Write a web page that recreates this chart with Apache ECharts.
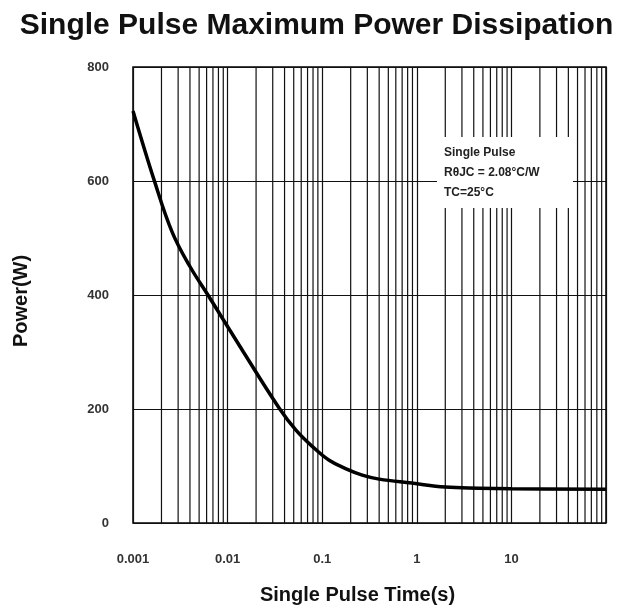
<!DOCTYPE html>
<html>
<head>
<meta charset="utf-8">
<script src="https://cdn.jsdelivr.net/npm/echarts@6/dist/echarts.min.js"></script>
<style>
  html, body { margin: 0; padding: 0; background: #fff; }
  #chart { width: 633px; height: 610px; }
</style>
</head>
<body>
<div id="chart"></div>
<script>
// pulse time (s) and power (W)
const pulseTime = [0.001, 0.0017, 0.0026, 0.004, 0.0062, 0.0147, 0.0353, 0.0528, 0.079, 0.1185, 0.179, 0.265, 0.4, 0.885, 2, 4.5, 10, 100];
const powerW = [723, 598, 510, 450, 400, 300, 201, 163, 134, 110, 95, 84, 77, 70, 63, 61, 60, 59];
const yTicks = [0, 200, 400, 600, 800];
const decades = [0.001, 0.01, 0.1, 1, 10];
const legendLines = ['Single Pulse', 'R\u03b8JC = 2.08\u00b0C/W', 'TC=25\u00b0C'];

// minor vertical grid lines 2..9 in each decade
const minorX = [];
decades.forEach(function (d) {
    for (let k = 2; k <= 9; k++) minorX.push(+(d * k).toPrecision(3));
});

const curve = pulseTime.map(function (t, i) { return [t, powerW[i]]; });

const gridLineSeries = minorX.map(function (x) {
    return {
        type: 'line',
        data: [[x, yTicks[0]], [x, yTicks[yTicks.length - 1]]],
        showSymbol: false,
        silent: true,
        z: 1,
        lineStyle: { color: '#111', width: 1.2 }
    };
});

let myChart = echarts.init(document.getElementById('chart'));
var option = {
    backgroundColor: '#fff',
    animation: false,
    textStyle: { fontFamily: 'Liberation Sans, Arial, sans-serif' },
    title: {
        text: 'Single Pulse Maximum Power Dissipation',
        left: 'center',
        top: 6,
        textStyle: { color: '#111', fontSize: 30, fontWeight: 'bold' }
    },
    grid: {
        left: 133, right: 27, top: 67, bottom: 87,
        outerBoundsMode: 'none',
        show: true, borderColor: '#000', borderWidth: 1.5
    },
    xAxis: {
        type: 'log',
        logBase: 10,
        min: 0.001,
        max: 100,
        name: 'Single Pulse Time(s)',
        nameLocation: 'middle',
        nameGap: 62,
        nameTextStyle: { color: '#111', fontSize: 20, fontWeight: 'bold', padding: [0, 24, 0, 0] },
        axisLine: { show: false },
        axisTick: { show: false },
        axisLabel: {
            margin: 30,
            color: '#333',
            fontSize: 13,
            fontWeight: 'bold',
            formatter: function (v) { return v >= 100 ? '' : String(+v.toPrecision(3)); }
        },
        splitLine: { show: true, lineStyle: { color: '#111', width: 1.2 } }
    },
    yAxis: {
        type: 'value',
        min: yTicks[0],
        max: yTicks[yTicks.length - 1],
        interval: 200,
        name: 'Power(W)',
        nameLocation: 'middle',
        nameGap: 102,
        nameTextStyle: { color: '#111', fontSize: 20, fontWeight: 'bold', padding: [0, 12, 0, 0] },
        axisLine: { show: false },
        axisTick: { show: false },
        axisLabel: { margin: 24, color: '#333', fontSize: 13, fontWeight: 'bold' },
        splitLine: { show: true, lineStyle: { color: '#111', width: 1.2 } }
    },
    series: gridLineSeries.concat([
        {
            type: 'line',
            data: curve,
            smooth: 0.4,
            showSymbol: false,
            z: 5,
            lineStyle: { color: '#000', width: 3.5 }
        }
    ]),
    graphic: [
        {
            type: 'rect',
            left: 437,
            top: 137,
            z: 100,
            shape: { width: 136, height: 71 },
            style: { fill: '#fff' }
        },
        {
            type: 'text',
            left: 444,
            top: 143,
            z: 101,
            style: {
                text: legendLines.join('\n'),
                fill: '#222',
                font: 'bold 12px Liberation Sans, Arial, sans-serif',
                lineHeight: 20
            }
        }
    ]
};

myChart.setOption(option);
</script>
</body>
</html>
